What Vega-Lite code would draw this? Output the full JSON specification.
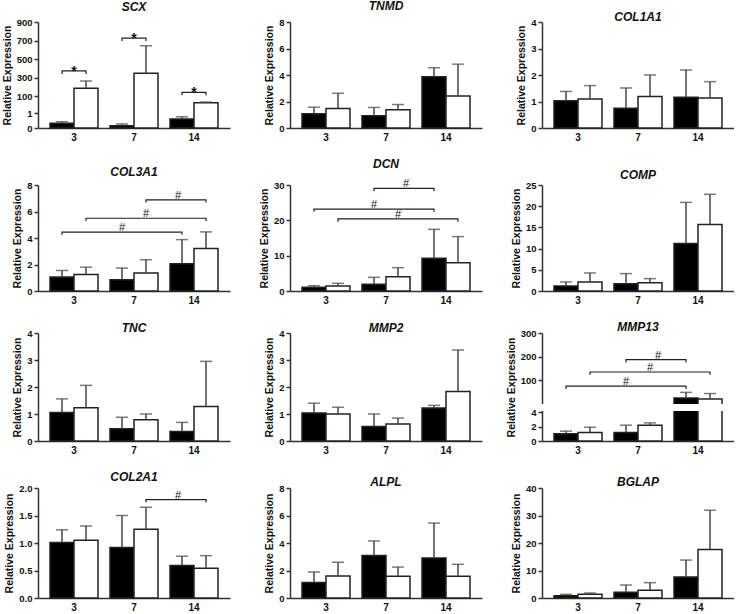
{
"$schema": "https://vega.github.io/schema/vega-lite/v6.json",
"background": "white",
"padding": {"left": 2, "top": 0, "right": 0, "bottom": 0},
"datasets": {
"bars": [
{"gene":"SCX","day":3,"grp":"A","mean":0.31,"upper":0.42},{"gene":"SCX","day":3,"grp":"B","mean":186,"upper":265},
{"gene":"SCX","day":7,"grp":"A","mean":0.15,"upper":0.27},{"gene":"SCX","day":7,"grp":"B","mean":349,"upper":644},
{"gene":"SCX","day":14,"grp":"A","mean":0.6,"upper":0.75},{"gene":"SCX","day":14,"grp":"B","mean":32,"upper":38},
{"gene":"TNMD","day":3,"grp":"A","mean":1.07,"upper":1.57},{"gene":"TNMD","day":3,"grp":"B","mean":1.47,"upper":2.62},
{"gene":"TNMD","day":7,"grp":"A","mean":0.92,"upper":1.55},{"gene":"TNMD","day":7,"grp":"B","mean":1.37,"upper":1.77},
{"gene":"TNMD","day":14,"grp":"A","mean":3.87,"upper":4.55},{"gene":"TNMD","day":14,"grp":"B","mean":2.42,"upper":4.82},
{"gene":"COL1A1","day":3,"grp":"A","mean":1.03,"upper":1.38},{"gene":"COL1A1","day":3,"grp":"B","mean":1.09,"upper":1.6},
{"gene":"COL1A1","day":7,"grp":"A","mean":0.75,"upper":1.51},{"gene":"COL1A1","day":7,"grp":"B","mean":1.19,"upper":2.0},
{"gene":"COL1A1","day":14,"grp":"A","mean":1.16,"upper":2.19},{"gene":"COL1A1","day":14,"grp":"B","mean":1.13,"upper":1.75},
{"gene":"COL3A1","day":3,"grp":"A","mean":1.05,"upper":1.55},{"gene":"COL3A1","day":3,"grp":"B","mean":1.25,"upper":1.8},
{"gene":"COL3A1","day":7,"grp":"A","mean":0.85,"upper":1.73},{"gene":"COL3A1","day":7,"grp":"B","mean":1.35,"upper":2.36},
{"gene":"COL3A1","day":14,"grp":"A","mean":2.06,"upper":3.88},{"gene":"COL3A1","day":14,"grp":"B","mean":3.21,"upper":4.46},
{"gene":"DCN","day":3,"grp":"A","mean":1.04,"upper":1.5},{"gene":"DCN","day":3,"grp":"B","mean":1.42,"upper":2.17},
{"gene":"DCN","day":7,"grp":"A","mean":1.89,"upper":3.87},{"gene":"DCN","day":7,"grp":"B","mean":4.06,"upper":6.6},
{"gene":"DCN","day":14,"grp":"A","mean":9.25,"upper":17.45},{"gene":"DCN","day":14,"grp":"B","mean":8.0,"upper":15.4},
{"gene":"COMP","day":3,"grp":"A","mean":1.18,"upper":2.13},{"gene":"COMP","day":3,"grp":"B","mean":2.13,"upper":4.26},
{"gene":"COMP","day":7,"grp":"A","mean":1.73,"upper":4.1},{"gene":"COMP","day":7,"grp":"B","mean":1.97,"upper":2.92},
{"gene":"COMP","day":14,"grp":"A","mean":11.2,"upper":20.9},{"gene":"COMP","day":14,"grp":"B","mean":15.7,"upper":22.8},
{"gene":"TNC","day":3,"grp":"A","mean":1.06,"upper":1.56},{"gene":"TNC","day":3,"grp":"B","mean":1.23,"upper":2.06},
{"gene":"TNC","day":7,"grp":"A","mean":0.45,"upper":0.88},{"gene":"TNC","day":7,"grp":"B","mean":0.79,"upper":1.0},
{"gene":"TNC","day":14,"grp":"A","mean":0.35,"upper":0.69},{"gene":"TNC","day":14,"grp":"B","mean":1.28,"upper":2.95},
{"gene":"MMP2","day":3,"grp":"A","mean":1.04,"upper":1.4},{"gene":"MMP2","day":3,"grp":"B","mean":1.0,"upper":1.25},
{"gene":"MMP2","day":7,"grp":"A","mean":0.54,"upper":1.0},{"gene":"MMP2","day":7,"grp":"B","mean":0.63,"upper":0.85},
{"gene":"MMP2","day":14,"grp":"A","mean":1.22,"upper":1.32},{"gene":"MMP2","day":14,"grp":"B","mean":1.83,"upper":3.37},
{"gene":"MMP13","day":3,"grp":"A","mean":1.0,"upper":1.36},{"gene":"MMP13","day":3,"grp":"B","mean":1.18,"upper":1.9},
{"gene":"MMP13","day":7,"grp":"A","mean":1.18,"upper":2.18},{"gene":"MMP13","day":7,"grp":"B","mean":2.18,"upper":2.5},
{"gene":"MMP13","day":14,"grp":"A","mean":25,"upper":49},{"gene":"MMP13","day":14,"grp":"B","mean":21,"upper":44},
{"gene":"COL2A1","day":3,"grp":"A","mean":1.01,"upper":1.24},{"gene":"COL2A1","day":3,"grp":"B","mean":1.05,"upper":1.31},
{"gene":"COL2A1","day":7,"grp":"A","mean":0.92,"upper":1.5},{"gene":"COL2A1","day":7,"grp":"B","mean":1.25,"upper":1.65},
{"gene":"COL2A1","day":14,"grp":"A","mean":0.59,"upper":0.76},{"gene":"COL2A1","day":14,"grp":"B","mean":0.54,"upper":0.77},
{"gene":"ALPL","day":3,"grp":"A","mean":1.12,"upper":1.89},{"gene":"ALPL","day":3,"grp":"B","mean":1.6,"upper":2.6},
{"gene":"ALPL","day":7,"grp":"A","mean":3.1,"upper":4.15},{"gene":"ALPL","day":7,"grp":"B","mean":1.58,"upper":2.25},
{"gene":"ALPL","day":14,"grp":"A","mean":2.91,"upper":5.45},{"gene":"ALPL","day":14,"grp":"B","mean":1.58,"upper":2.45},
{"gene":"BGLAP","day":3,"grp":"A","mean":0.85,"upper":1.33},{"gene":"BGLAP","day":3,"grp":"B","mean":1.33,"upper":1.82},
{"gene":"BGLAP","day":7,"grp":"A","mean":2.06,"upper":4.73},{"gene":"BGLAP","day":7,"grp":"B","mean":2.79,"upper":5.58},
{"gene":"BGLAP","day":14,"grp":"A","mean":7.64,"upper":13.8},{"gene":"BGLAP","day":14,"grp":"B","mean":17.6,"upper":31.9}
],
"brk": [
{"gene":"SCX","id":"s3","ord":1,"day":3,"grp":"A","y":341},{"gene":"SCX","id":"s3","ord":2,"day":3,"grp":"A","y":373},{"gene":"SCX","id":"s3","ord":3,"day":3,"grp":"B","y":373},{"gene":"SCX","id":"s3","ord":4,"day":3,"grp":"B","y":341},
{"gene":"SCX","id":"s7","ord":1,"day":7,"grp":"A","y":695},{"gene":"SCX","id":"s7","ord":2,"day":7,"grp":"A","y":727},{"gene":"SCX","id":"s7","ord":3,"day":7,"grp":"B","y":727},{"gene":"SCX","id":"s7","ord":4,"day":7,"grp":"B","y":695},
{"gene":"SCX","id":"s14","ord":1,"day":14,"grp":"A","y":111},{"gene":"SCX","id":"s14","ord":2,"day":14,"grp":"A","y":143},{"gene":"SCX","id":"s14","ord":3,"day":14,"grp":"B","y":143},{"gene":"SCX","id":"s14","ord":4,"day":14,"grp":"B","y":111},
{"gene":"COL3A1","id":"c1","ord":1,"day":3,"grp":"A","y":4.24},{"gene":"COL3A1","id":"c1","ord":2,"day":3,"grp":"A","y":4.44},{"gene":"COL3A1","id":"c1","ord":3,"day":14,"grp":"A","y":4.44},{"gene":"COL3A1","id":"c1","ord":4,"day":14,"grp":"A","y":4.24},
{"gene":"COL3A1","id":"c2","ord":1,"day":3,"grp":"B","y":5.29},{"gene":"COL3A1","id":"c2","ord":2,"day":3,"grp":"B","y":5.49},{"gene":"COL3A1","id":"c2","ord":3,"day":14,"grp":"B","y":5.49},{"gene":"COL3A1","id":"c2","ord":4,"day":14,"grp":"B","y":5.29},
{"gene":"COL3A1","id":"c3","ord":1,"day":7,"grp":"B","y":6.67},{"gene":"COL3A1","id":"c3","ord":2,"day":7,"grp":"B","y":6.87},{"gene":"COL3A1","id":"c3","ord":3,"day":14,"grp":"B","y":6.87},{"gene":"COL3A1","id":"c3","ord":4,"day":14,"grp":"B","y":6.67},
{"gene":"DCN","id":"d1","ord":1,"day":7,"grp":"A","y":28.26},{"gene":"DCN","id":"d1","ord":2,"day":7,"grp":"A","y":29.06},{"gene":"DCN","id":"d1","ord":3,"day":14,"grp":"A","y":29.06},{"gene":"DCN","id":"d1","ord":4,"day":14,"grp":"A","y":28.26},
{"gene":"DCN","id":"d2","ord":1,"day":3,"grp":"A","y":22.4},{"gene":"DCN","id":"d2","ord":2,"day":3,"grp":"A","y":23.2},{"gene":"DCN","id":"d2","ord":3,"day":14,"grp":"A","y":23.2},{"gene":"DCN","id":"d2","ord":4,"day":14,"grp":"A","y":22.4},
{"gene":"DCN","id":"d3","ord":1,"day":3,"grp":"B","y":19.6},{"gene":"DCN","id":"d3","ord":2,"day":3,"grp":"B","y":20.4},{"gene":"DCN","id":"d3","ord":3,"day":14,"grp":"B","y":20.4},{"gene":"DCN","id":"d3","ord":4,"day":14,"grp":"B","y":19.6},
{"gene":"MMP13","id":"m1","ord":1,"day":7,"grp":"A","y":175},{"gene":"MMP13","id":"m1","ord":2,"day":7,"grp":"A","y":187},{"gene":"MMP13","id":"m1","ord":3,"day":14,"grp":"A","y":187},{"gene":"MMP13","id":"m1","ord":4,"day":14,"grp":"A","y":175},
{"gene":"MMP13","id":"m2","ord":1,"day":3,"grp":"B","y":123},{"gene":"MMP13","id":"m2","ord":2,"day":3,"grp":"B","y":135},{"gene":"MMP13","id":"m2","ord":3,"day":14,"grp":"B","y":135},{"gene":"MMP13","id":"m2","ord":4,"day":14,"grp":"B","y":123},
{"gene":"MMP13","id":"m3","ord":1,"day":3,"grp":"A","y":63},{"gene":"MMP13","id":"m3","ord":2,"day":3,"grp":"A","y":75},{"gene":"MMP13","id":"m3","ord":3,"day":14,"grp":"A","y":75},{"gene":"MMP13","id":"m3","ord":4,"day":14,"grp":"A","y":63},
{"gene":"COL2A1","id":"k1","ord":1,"day":7,"grp":"B","y":1.74},{"gene":"COL2A1","id":"k1","ord":2,"day":7,"grp":"B","y":1.79},{"gene":"COL2A1","id":"k1","ord":3,"day":14,"grp":"B","y":1.79},{"gene":"COL2A1","id":"k1","ord":4,"day":14,"grp":"B","y":1.74}
],
"sig": [
{"gene":"SCX","day":3,"grp":"A","y":373,"sym":"*","pos":"center"},{"gene":"SCX","day":7,"grp":"A","y":727,"sym":"*","pos":"center"},{"gene":"SCX","day":14,"grp":"A","y":143,"sym":"*","pos":"center"},
{"gene":"COL3A1","day":7,"grp":"A","y":4.44,"sym":"#","pos":"bar"},{"gene":"COL3A1","day":7,"grp":"B","y":5.49,"sym":"#","pos":"bar"},{"gene":"COL3A1","day":7,"grp":"B","y":6.87,"sym":"#","pos":"between"},
{"gene":"DCN","day":7,"grp":"A","y":29.06,"sym":"#","pos":"between"},{"gene":"DCN","day":7,"grp":"A","y":23.2,"sym":"#","pos":"bar"},{"gene":"DCN","day":7,"grp":"B","y":20.4,"sym":"#","pos":"bar"},
{"gene":"MMP13","day":7,"grp":"A","y":187,"sym":"#","pos":"between"},{"gene":"MMP13","day":7,"grp":"B","y":135,"sym":"#","pos":"bar"},{"gene":"MMP13","day":7,"grp":"A","y":75,"sym":"#","pos":"bar"},
{"gene":"COL2A1","day":7,"grp":"B","y":1.79,"sym":"#","pos":"between"}
],
"breaks": [
{"gene":"MMP13","lo":4.001,"hi":4.009}
]
},
"spacing": 16,
"vconcat": [
{"hconcat": [
{"width":192,"height":106,"title":{"text":"SCX","offset":3},"layer":[
{"data":{"name":"bars"},"transform":[{"filter":"datum.gene==='SCX'"}],"mark":"bar","encoding":{"x":{"field":"day","type":"ordinal","axis":{"title":null}},"xOffset":{"field":"grp","type":"nominal"},"y":{"field":"mean","type":"quantitative","scale":{"domain":[0,1.25,1.26,900],"range":[106,87.25,83.5,0],"nice":false,"zero":false},"axis":{"title":"Relative Expression","values":[0,1,100,300,500,700,900],"labelOverlap":false,"tickCount":7}},"fill":{"field":"grp","type":"nominal","legend":null}}},
{"data":{"name":"bars"},"transform":[{"filter":"datum.gene==='SCX'"}],"mark":"rule","encoding":{"x":{"field":"day","type":"ordinal"},"xOffset":{"field":"grp","type":"nominal"},"y":{"field":"mean","type":"quantitative"},"y2":{"field":"upper"}}},
{"data":{"name":"bars"},"transform":[{"filter":"datum.gene==='SCX'"}],"mark":{"type":"tick","size":12},"encoding":{"x":{"field":"day","type":"ordinal"},"xOffset":{"field":"grp","type":"nominal"},"y":{"field":"upper","type":"quantitative"}}},
{"data":{"name":"brk"},"transform":[{"filter":"datum.gene==='SCX'"}],"mark":{"type":"line","stroke":"#222"},"encoding":{"x":{"field":"day","type":"ordinal"},"xOffset":{"field":"grp","type":"nominal"},"y":{"field":"y","type":"quantitative"},"detail":{"field":"id"},"order":{"field":"ord"}}},
{"data":{"name":"sig"},"transform":[{"filter":"datum.gene==='SCX'"}],"mark":{"type":"text","baseline":"alphabetic","dy":5,"fontSize":14,"fontWeight":"bold","fill":"#111"},"encoding":{"x":{"field":"day","type":"ordinal"},"y":{"field":"y","type":"quantitative"},"text":{"field":"sym"}}}
]},
{"width":192,"height":106,"title":{"text":"TNMD","offset":4},"layer":[
{"data":{"name":"bars"},"transform":[{"filter":"datum.gene==='TNMD'"}],"mark":"bar","encoding":{"x":{"field":"day","type":"ordinal","axis":{"title":null}},"xOffset":{"field":"grp","type":"nominal"},"y":{"field":"mean","type":"quantitative","scale":{"domain":[0,8],"nice":false},"axis":{"title":"Relative Expression","values":[0,2,4,6,8],"labelOverlap":false,"tickCount":5}},"fill":{"field":"grp","type":"nominal","legend":null}}},
{"data":{"name":"bars"},"transform":[{"filter":"datum.gene==='TNMD'"}],"mark":"rule","encoding":{"x":{"field":"day","type":"ordinal"},"xOffset":{"field":"grp","type":"nominal"},"y":{"field":"mean","type":"quantitative"},"y2":{"field":"upper"}}},
{"data":{"name":"bars"},"transform":[{"filter":"datum.gene==='TNMD'"}],"mark":{"type":"tick","size":12},"encoding":{"x":{"field":"day","type":"ordinal"},"xOffset":{"field":"grp","type":"nominal"},"y":{"field":"upper","type":"quantitative"}}}
]},
{"width":192,"height":106,"title":{"text":"COL1A1","offset":-7},"layer":[
{"data":{"name":"bars"},"transform":[{"filter":"datum.gene==='COL1A1'"}],"mark":"bar","encoding":{"x":{"field":"day","type":"ordinal","axis":{"title":null}},"xOffset":{"field":"grp","type":"nominal"},"y":{"field":"mean","type":"quantitative","scale":{"domain":[0,4],"nice":false},"axis":{"title":"Relative Expression","values":[0,1,2,3,4],"labelOverlap":false,"tickCount":5}},"fill":{"field":"grp","type":"nominal","legend":null}}},
{"data":{"name":"bars"},"transform":[{"filter":"datum.gene==='COL1A1'"}],"mark":"rule","encoding":{"x":{"field":"day","type":"ordinal"},"xOffset":{"field":"grp","type":"nominal"},"y":{"field":"mean","type":"quantitative"},"y2":{"field":"upper"}}},
{"data":{"name":"bars"},"transform":[{"filter":"datum.gene==='COL1A1'"}],"mark":{"type":"tick","size":12},"encoding":{"x":{"field":"day","type":"ordinal"},"xOffset":{"field":"grp","type":"nominal"},"y":{"field":"upper","type":"quantitative"}}}
]}
], "spacing": 60, "bounds": "flush"},
{"hconcat": [
{"width":192,"height":106,"title":{"text":"COL3A1","offset":1},"layer":[
{"data":{"name":"bars"},"transform":[{"filter":"datum.gene==='COL3A1'"}],"mark":"bar","encoding":{"x":{"field":"day","type":"ordinal","axis":{"title":null}},"xOffset":{"field":"grp","type":"nominal"},"y":{"field":"mean","type":"quantitative","scale":{"domain":[0,8],"nice":false},"axis":{"title":"Relative Expression","values":[0,2,4,6,8],"labelOverlap":false,"tickCount":5}},"fill":{"field":"grp","type":"nominal","legend":null}}},
{"data":{"name":"bars"},"transform":[{"filter":"datum.gene==='COL3A1'"}],"mark":"rule","encoding":{"x":{"field":"day","type":"ordinal"},"xOffset":{"field":"grp","type":"nominal"},"y":{"field":"mean","type":"quantitative"},"y2":{"field":"upper"}}},
{"data":{"name":"bars"},"transform":[{"filter":"datum.gene==='COL3A1'"}],"mark":{"type":"tick","size":12},"encoding":{"x":{"field":"day","type":"ordinal"},"xOffset":{"field":"grp","type":"nominal"},"y":{"field":"upper","type":"quantitative"}}},
{"data":{"name":"brk"},"transform":[{"filter":"datum.gene==='COL3A1'"}],"mark":{"type":"line","stroke":"#222"},"encoding":{"x":{"field":"day","type":"ordinal"},"xOffset":{"field":"grp","type":"nominal"},"y":{"field":"y","type":"quantitative"},"detail":{"field":"id"},"order":{"field":"ord"}}},
{"data":{"name":"sig"},"transform":[{"filter":"datum.gene==='COL3A1' && datum.pos==='bar'"}],"mark":{"type":"text","baseline":"alphabetic","dy":-1,"fill":"#111"},"encoding":{"x":{"field":"day","type":"ordinal"},"xOffset":{"field":"grp","type":"nominal"},"y":{"field":"y","type":"quantitative"},"text":{"field":"sym"}}},
{"data":{"name":"sig"},"transform":[{"filter":"datum.gene==='COL3A1' && datum.pos==='between'"}],"mark":{"type":"text","baseline":"alphabetic","dy":-1,"dx":32,"fill":"#111"},"encoding":{"x":{"field":"day","type":"ordinal"},"xOffset":{"field":"grp","type":"nominal"},"y":{"field":"y","type":"quantitative"},"text":{"field":"sym"}}}
]},
{"width":192,"height":106,"title":{"text":"DCN","offset":7},"layer":[
{"data":{"name":"bars"},"transform":[{"filter":"datum.gene==='DCN'"}],"mark":"bar","encoding":{"x":{"field":"day","type":"ordinal","axis":{"title":null}},"xOffset":{"field":"grp","type":"nominal"},"y":{"field":"mean","type":"quantitative","scale":{"domain":[0,30],"nice":false},"axis":{"title":"Relative Expression","values":[0,10,20,30],"labelOverlap":false,"tickCount":4}},"fill":{"field":"grp","type":"nominal","legend":null}}},
{"data":{"name":"bars"},"transform":[{"filter":"datum.gene==='DCN'"}],"mark":"rule","encoding":{"x":{"field":"day","type":"ordinal"},"xOffset":{"field":"grp","type":"nominal"},"y":{"field":"mean","type":"quantitative"},"y2":{"field":"upper"}}},
{"data":{"name":"bars"},"transform":[{"filter":"datum.gene==='DCN'"}],"mark":{"type":"tick","size":12},"encoding":{"x":{"field":"day","type":"ordinal"},"xOffset":{"field":"grp","type":"nominal"},"y":{"field":"upper","type":"quantitative"}}},
{"data":{"name":"brk"},"transform":[{"filter":"datum.gene==='DCN'"}],"mark":{"type":"line","stroke":"#222"},"encoding":{"x":{"field":"day","type":"ordinal"},"xOffset":{"field":"grp","type":"nominal"},"y":{"field":"y","type":"quantitative"},"detail":{"field":"id"},"order":{"field":"ord"}}},
{"data":{"name":"sig"},"transform":[{"filter":"datum.gene==='DCN' && datum.pos==='bar'"}],"mark":{"type":"text","baseline":"alphabetic","dy":-1,"fill":"#111"},"encoding":{"x":{"field":"day","type":"ordinal"},"xOffset":{"field":"grp","type":"nominal"},"y":{"field":"y","type":"quantitative"},"text":{"field":"sym"}}},
{"data":{"name":"sig"},"transform":[{"filter":"datum.gene==='DCN' && datum.pos==='between'"}],"mark":{"type":"text","baseline":"alphabetic","dy":-1,"dx":32,"fill":"#111"},"encoding":{"x":{"field":"day","type":"ordinal"},"xOffset":{"field":"grp","type":"nominal"},"y":{"field":"y","type":"quantitative"},"text":{"field":"sym"}}}
]},
{"width":192,"height":106,"title":{"text":"COMP","offset":-2},"layer":[
{"data":{"name":"bars"},"transform":[{"filter":"datum.gene==='COMP'"}],"mark":"bar","encoding":{"x":{"field":"day","type":"ordinal","axis":{"title":null}},"xOffset":{"field":"grp","type":"nominal"},"y":{"field":"mean","type":"quantitative","scale":{"domain":[0,25],"nice":false},"axis":{"title":"Relative Expression","values":[0,5,10,15,20,25],"labelOverlap":false,"tickCount":6}},"fill":{"field":"grp","type":"nominal","legend":null}}},
{"data":{"name":"bars"},"transform":[{"filter":"datum.gene==='COMP'"}],"mark":"rule","encoding":{"x":{"field":"day","type":"ordinal"},"xOffset":{"field":"grp","type":"nominal"},"y":{"field":"mean","type":"quantitative"},"y2":{"field":"upper"}}},
{"data":{"name":"bars"},"transform":[{"filter":"datum.gene==='COMP'"}],"mark":{"type":"tick","size":12},"encoding":{"x":{"field":"day","type":"ordinal"},"xOffset":{"field":"grp","type":"nominal"},"y":{"field":"upper","type":"quantitative"}}}
]}
], "spacing": 60, "bounds": "flush"},
{"hconcat": [
{"width":192,"height":108,"title":{"text":"TNC","offset":-7},"layer":[
{"data":{"name":"bars"},"transform":[{"filter":"datum.gene==='TNC'"}],"mark":"bar","encoding":{"x":{"field":"day","type":"ordinal","axis":{"title":null}},"xOffset":{"field":"grp","type":"nominal"},"y":{"field":"mean","type":"quantitative","scale":{"domain":[0,4],"nice":false},"axis":{"title":"Relative Expression","values":[0,1,2,3,4],"labelOverlap":false,"tickCount":5}},"fill":{"field":"grp","type":"nominal","legend":null}}},
{"data":{"name":"bars"},"transform":[{"filter":"datum.gene==='TNC'"}],"mark":"rule","encoding":{"x":{"field":"day","type":"ordinal"},"xOffset":{"field":"grp","type":"nominal"},"y":{"field":"mean","type":"quantitative"},"y2":{"field":"upper"}}},
{"data":{"name":"bars"},"transform":[{"filter":"datum.gene==='TNC'"}],"mark":{"type":"tick","size":12},"encoding":{"x":{"field":"day","type":"ordinal"},"xOffset":{"field":"grp","type":"nominal"},"y":{"field":"upper","type":"quantitative"}}}
]},
{"width":192,"height":108,"title":{"text":"MMP2","offset":-7},"layer":[
{"data":{"name":"bars"},"transform":[{"filter":"datum.gene==='MMP2'"}],"mark":"bar","encoding":{"x":{"field":"day","type":"ordinal","axis":{"title":null}},"xOffset":{"field":"grp","type":"nominal"},"y":{"field":"mean","type":"quantitative","scale":{"domain":[0,4],"nice":false},"axis":{"title":"Relative Expression","values":[0,1,2,3,4],"labelOverlap":false,"tickCount":5}},"fill":{"field":"grp","type":"nominal","legend":null}}},
{"data":{"name":"bars"},"transform":[{"filter":"datum.gene==='MMP2'"}],"mark":"rule","encoding":{"x":{"field":"day","type":"ordinal"},"xOffset":{"field":"grp","type":"nominal"},"y":{"field":"mean","type":"quantitative"},"y2":{"field":"upper"}}},
{"data":{"name":"bars"},"transform":[{"filter":"datum.gene==='MMP2'"}],"mark":{"type":"tick","size":12},"encoding":{"x":{"field":"day","type":"ordinal"},"xOffset":{"field":"grp","type":"nominal"},"y":{"field":"upper","type":"quantitative"}}}
]},
{"width":192,"height":108,"title":{"text":"MMP13","offset":-6},"layer":[
{"data":{"name":"bars"},"transform":[{"filter":"datum.gene==='MMP13'"}],"mark":"bar","encoding":{"x":{"field":"day","type":"ordinal","axis":{"title":null}},"xOffset":{"field":"grp","type":"nominal"},"y":{"field":"mean","type":"quantitative","scale":{"domain":[0,4,4.01,300],"range":[108,79,70,0],"nice":false,"zero":false},"axis":{"title":"Relative Expression","values":[0,2,4,100,200,300],"labelOverlap":false,"tickCount":6}},"fill":{"field":"grp","type":"nominal","legend":null}}},
{"data":{"name":"bars"},"transform":[{"filter":"datum.gene==='MMP13'"}],"mark":"rule","encoding":{"x":{"field":"day","type":"ordinal"},"xOffset":{"field":"grp","type":"nominal"},"y":{"field":"mean","type":"quantitative"},"y2":{"field":"upper"}}},
{"data":{"name":"bars"},"transform":[{"filter":"datum.gene==='MMP13'"}],"mark":{"type":"tick","size":12},"encoding":{"x":{"field":"day","type":"ordinal"},"xOffset":{"field":"grp","type":"nominal"},"y":{"field":"upper","type":"quantitative"}}},
{"data":{"name":"breaks"},"transform":[{"filter":"datum.gene==='MMP13'"}],"mark":{"type":"rect","fill":"white","stroke":null},"encoding":{"x":{"value":-1},"x2":{"value":"width"},"y":{"field":"lo","type":"quantitative"},"y2":{"field":"hi"}}},
{"data":{"name":"brk"},"transform":[{"filter":"datum.gene==='MMP13'"}],"mark":{"type":"line","stroke":"#222"},"encoding":{"x":{"field":"day","type":"ordinal"},"xOffset":{"field":"grp","type":"nominal"},"y":{"field":"y","type":"quantitative"},"detail":{"field":"id"},"order":{"field":"ord"}}},
{"data":{"name":"sig"},"transform":[{"filter":"datum.gene==='MMP13' && datum.pos==='bar'"}],"mark":{"type":"text","baseline":"alphabetic","dy":-1,"fill":"#111"},"encoding":{"x":{"field":"day","type":"ordinal"},"xOffset":{"field":"grp","type":"nominal"},"y":{"field":"y","type":"quantitative"},"text":{"field":"sym"}}},
{"data":{"name":"sig"},"transform":[{"filter":"datum.gene==='MMP13' && datum.pos==='between'"}],"mark":{"type":"text","baseline":"alphabetic","dy":-1,"dx":32,"fill":"#111"},"encoding":{"x":{"field":"day","type":"ordinal"},"xOffset":{"field":"grp","type":"nominal"},"y":{"field":"y","type":"quantitative"},"text":{"field":"sym"}}}
]}
], "spacing": 60, "bounds": "flush"},
{"hconcat": [
{"width":192,"height":110,"title":{"text":"COL2A1","offset":-1},"layer":[
{"data":{"name":"bars"},"transform":[{"filter":"datum.gene==='COL2A1'"}],"mark":"bar","encoding":{"x":{"field":"day","type":"ordinal","axis":{"title":null}},"xOffset":{"field":"grp","type":"nominal"},"y":{"field":"mean","type":"quantitative","scale":{"domain":[0,2],"nice":false},"axis":{"title":"Relative Expression","values":[0,0.5,1,1.5,2],"format":".1f","labelOverlap":false,"tickCount":5}},"fill":{"field":"grp","type":"nominal","legend":null}}},
{"data":{"name":"bars"},"transform":[{"filter":"datum.gene==='COL2A1'"}],"mark":"rule","encoding":{"x":{"field":"day","type":"ordinal"},"xOffset":{"field":"grp","type":"nominal"},"y":{"field":"mean","type":"quantitative"},"y2":{"field":"upper"}}},
{"data":{"name":"bars"},"transform":[{"filter":"datum.gene==='COL2A1'"}],"mark":{"type":"tick","size":12},"encoding":{"x":{"field":"day","type":"ordinal"},"xOffset":{"field":"grp","type":"nominal"},"y":{"field":"upper","type":"quantitative"}}},
{"data":{"name":"brk"},"transform":[{"filter":"datum.gene==='COL2A1'"}],"mark":{"type":"line","stroke":"#222"},"encoding":{"x":{"field":"day","type":"ordinal"},"xOffset":{"field":"grp","type":"nominal"},"y":{"field":"y","type":"quantitative"},"detail":{"field":"id"},"order":{"field":"ord"}}},
{"data":{"name":"sig"},"transform":[{"filter":"datum.gene==='COL2A1' && datum.pos==='between'"}],"mark":{"type":"text","baseline":"alphabetic","dy":-1,"dx":32,"fill":"#111"},"encoding":{"x":{"field":"day","type":"ordinal"},"xOffset":{"field":"grp","type":"nominal"},"y":{"field":"y","type":"quantitative"},"text":{"field":"sym"}}}
]},
{"width":192,"height":110,"title":{"text":"ALPL","offset":-6},"layer":[
{"data":{"name":"bars"},"transform":[{"filter":"datum.gene==='ALPL'"}],"mark":"bar","encoding":{"x":{"field":"day","type":"ordinal","axis":{"title":null}},"xOffset":{"field":"grp","type":"nominal"},"y":{"field":"mean","type":"quantitative","scale":{"domain":[0,8],"nice":false},"axis":{"title":"Relative Expression","values":[0,2,4,6,8],"labelOverlap":false,"tickCount":5}},"fill":{"field":"grp","type":"nominal","legend":null}}},
{"data":{"name":"bars"},"transform":[{"filter":"datum.gene==='ALPL'"}],"mark":"rule","encoding":{"x":{"field":"day","type":"ordinal"},"xOffset":{"field":"grp","type":"nominal"},"y":{"field":"mean","type":"quantitative"},"y2":{"field":"upper"}}},
{"data":{"name":"bars"},"transform":[{"filter":"datum.gene==='ALPL'"}],"mark":{"type":"tick","size":12},"encoding":{"x":{"field":"day","type":"ordinal"},"xOffset":{"field":"grp","type":"nominal"},"y":{"field":"upper","type":"quantitative"}}}
]},
{"width":192,"height":110,"title":{"text":"BGLAP","offset":-6},"layer":[
{"data":{"name":"bars"},"transform":[{"filter":"datum.gene==='BGLAP'"}],"mark":"bar","encoding":{"x":{"field":"day","type":"ordinal","axis":{"title":null}},"xOffset":{"field":"grp","type":"nominal"},"y":{"field":"mean","type":"quantitative","scale":{"domain":[0,40],"nice":false},"axis":{"title":"Relative Expression","values":[0,10,20,30,40],"labelOverlap":false,"tickCount":5}},"fill":{"field":"grp","type":"nominal","legend":null}}},
{"data":{"name":"bars"},"transform":[{"filter":"datum.gene==='BGLAP'"}],"mark":"rule","encoding":{"x":{"field":"day","type":"ordinal"},"xOffset":{"field":"grp","type":"nominal"},"y":{"field":"mean","type":"quantitative"},"y2":{"field":"upper"}}},
{"data":{"name":"bars"},"transform":[{"filter":"datum.gene==='BGLAP'"}],"mark":{"type":"tick","size":12},"encoding":{"x":{"field":"day","type":"ordinal"},"xOffset":{"field":"grp","type":"nominal"},"y":{"field":"upper","type":"quantitative"}}}
]}
], "spacing": 60, "bounds": "flush"}
],
"config": {
"view": {"stroke": null},
"font": "Liberation Sans",
"axis": {"labelFont": "Liberation Sans", "labelFontWeight": "bold", "labelFontSize": 9.5, "labelColor": "#111", "titleFont": "Liberation Sans", "titleFontWeight": "bold", "titleFontSize": 10.5, "titleColor": "#111", "domainColor": "#333", "domainWidth": 1.5, "tickColor": "#333", "tickWidth": 1.5, "tickSize": 4, "grid": false, "labelPadding": 2, "titlePadding": 4, "labelOverlap": false},
"axisX": {"ticks": false, "labelAngle": 0, "labelPadding": 4, "labelFontSize": 10},
"scale": {"bandPaddingInner": 0.3125, "bandPaddingOuter": 0.15625},
"range": {"category": ["#000000", "#ffffff"]},
"bar": {"stroke": "#222", "strokeWidth": 1.5},
"rule": {"color": "#444", "strokeWidth": 1.5},
"tick": {"color": "#444", "thickness": 1.5, "bandSize": 12},
"line": {"color": "#222", "strokeWidth": 1.2},
"text": {"font": "Liberation Sans", "fontSize": 11, "color": "#222"},
"title": {"font": "Liberation Sans", "fontSize": 12, "fontWeight": "bold", "fontStyle": "italic", "color": "#111", "anchor": "middle", "frame": "group"}
}
}
